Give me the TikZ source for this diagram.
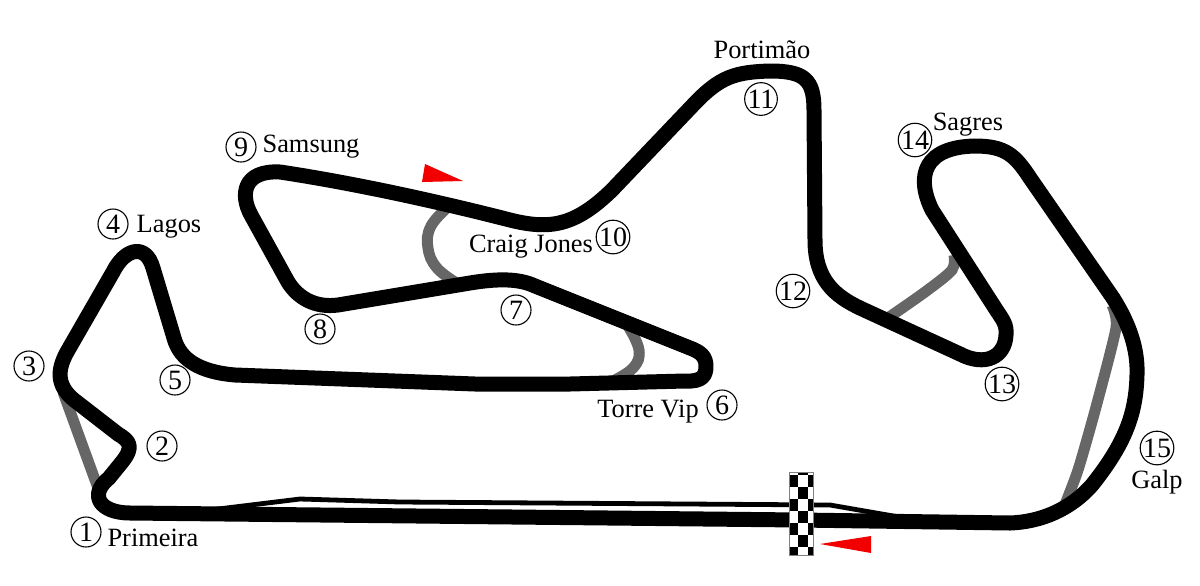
\documentclass[tikz,border=0pt]{standalone}
\usepackage{fontspec}
\setmainfont{Liberation Serif}
\tikzset{
  track/.style={line width=7.5pt,black,line join=round},
  runoff/.style={line width=5.5pt,black!60},
  pitlane/.style={line width=2.4pt,black,line join=round},
  turnmark/.style={draw,circle,line width=0.55pt,minimum size=15pt,inner sep=0pt,font=\fontsize{14}{14}\selectfont},
  turnname/.style={font=\fontsize{13.2}{15}\selectfont},
  sector/.style={fill=red!95!black},
}

\begin{document}
\begin{tikzpicture}[x=0.5pt,y=-0.5pt]
\useasboundingbox (0,0) rectangle (1200,585);

% run-off roads
\draw[runoff] (63,392) -- (98,488);
\draw[runoff] plot[smooth,tension=0.7] coordinates {(450,205) (431,226) (428,248) (437,268) (458,284)};
\draw[runoff] plot[smooth,tension=0.7] coordinates {(628,326) (639,350) (633,368) (611,382)};
\draw[runoff] plot[smooth,tension=0.5] coordinates {(954,255) (952,270) (925,292) (882,322)};
\draw[runoff] plot[smooth,tension=0.4] coordinates {(1112,305) (1116,328) (1096,407) (1078,470) (1062,512)};

% pit lane
\draw[pitlane] (210,510) -- (300,499) -- (400,502) -- (830,505) -- (905,518);

% main circuit
\draw[track] (1010,523) -- (800,520) -- (130,513)
  .. controls (100,513) and (88,495) .. (109,478) -- (122,462)
  .. controls (134,447) and (130,441) .. (118,434) -- (78,403)
  .. controls (57,388) and (56,372) .. (67,352) -- (113,272)
  .. controls (125,248) and (146,243) .. (153,268) -- (174,338)
  .. controls (180,360) and (200,372) .. (235,375) -- (475,384) -- (570,384) -- (685,381)
  .. controls (703,382) and (706,375) .. (706,366)
  .. controls (706,357) and (701,352) .. (690,348) -- (535,286)
  .. controls (520,279) and (500,278) .. (470,283) -- (338,305)
  .. controls (315,308) and (298,298) .. (288,282) -- (251,215)
  .. controls (240,195) and (243,170) .. (280,172)
  .. controls (340,181) and (420,197) .. (510,220)
  .. controls (550,230) and (575,226) .. (612,190) -- (695,103)
  .. controls (720,77) and (735,72) .. (770,71)
  .. controls (805,71) and (814,80) .. (814,110) -- (815,240)
  .. controls (815,280) and (835,296) .. (860,308) -- (960,354)
  .. controls (985,367) and (1005,357) .. (1006,335)
  .. controls (1007,325) and (1003,320) .. (997,311) -- (932,210)
  .. controls (915,175) and (925,147) .. (975,146)
  .. controls (1005,146) and (1015,155) .. (1030,178) -- (1113,298)
  .. controls (1130,325) and (1138,350) .. (1137,375)
  .. controls (1136,410) and (1128,440) .. (1092,485)
  .. controls (1070,510) and (1040,522) .. (1010,523) -- cycle;

% start line
\fill[white] (789,472) rectangle (813.5,555);
\foreach \col/\xa/\xb in {0/790/798,1/798/808,2/808/813}
  \foreach \row/\ya/\yb in {0/472/475,1/475/487,2/487/499,3/499/511,4/511/523,5/523/535,6/535/547,7/547/555}{
    \pgfmathparse{int(mod(\col+\row,2))}
    \ifnum\pgfmathresult=1 \fill[black] (\xa,\ya) rectangle (\xb,\yb); \fi
  }
\draw[black!50,line width=0.5pt] (789,472) rectangle (813.5,555);

% sector arrows
\fill[sector] (820,544) -- (871,536) -- (871,553) -- cycle;
\fill[sector] (425,164) -- (422,182) -- (463,181) -- cycle;

% turns
\foreach \n/\px/\py in {1/86/532,2/162/446,3/29/366,4/113/224,5/175/380,6/722/405,7/516/310,
  8/320/329,9/241/147,10/613/237,11/761/99,12/793/291,13/1002/384,14/915/140,15/1157/448}
  \node[turnmark] (turn\n) at (\px,\py) {\n};

\node[turnname] (primeira) at (153,538) {Primeira};
\node[turnname] (lagos) at (169,227) {Lagos};
\node[turnname] (torrevip) at (648,412) {Torre Vip};
\node[turnname] (samsung) at (311,147) {Samsung};
\node[turnname] (craigjones) at (531,247) {Craig Jones};
\node[turnname] (portimao) at (762,50) {Portimão};
\node[turnname] (sagres) at (968,125) {Sagres};
\node[turnname] (galp) at (1157,482) {Galp};

\end{tikzpicture}
\end{document}
